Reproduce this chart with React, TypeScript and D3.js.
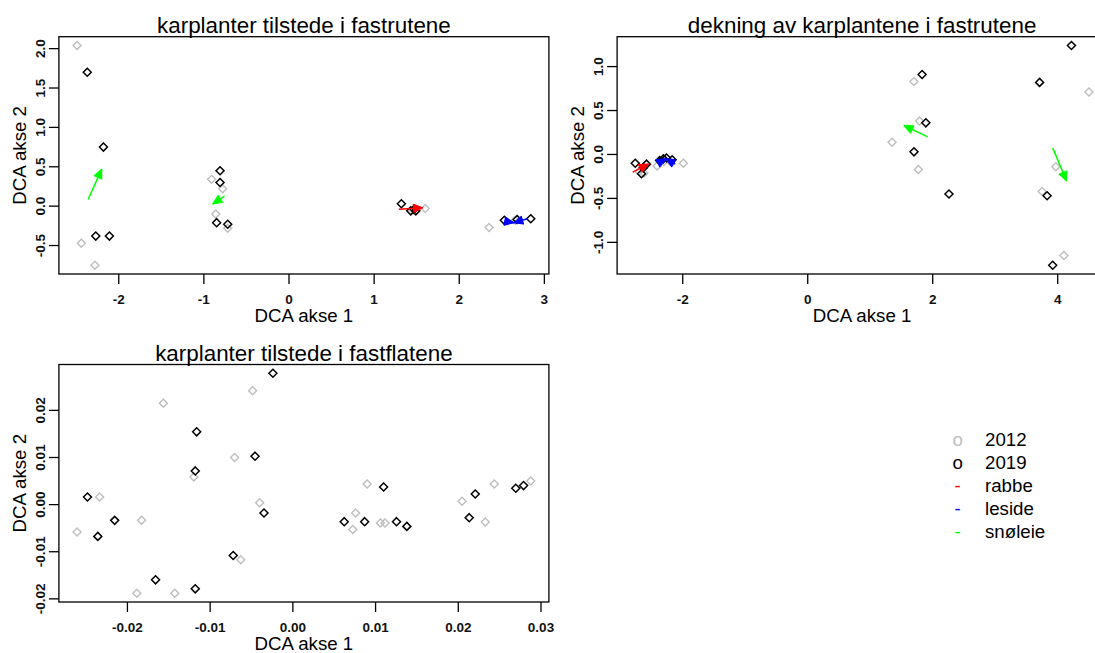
import * as d3 from "d3";

type Pt = [number, number];
type Arrow = [number, number, number, number];

// --- panel 1: karplanter tilstede i fastrutene ---
const rute2012: Pt[] = [
  [-2.49, 2.04], [-2.44, -0.47], [-2.28, -0.75], [-0.91, 0.34], [-0.78, 0.22],
  [-0.86, -0.1], [-0.72, -0.28], [1.6, -0.03], [2.35, -0.27], [1.46, -0.05], [2.66, -0.18],
];
const rute2019: Pt[] = [
  [-2.37, 1.7], [-2.18, 0.75], [-2.27, -0.38], [-2.11, -0.38], [-0.81, 0.45], [-0.81, 0.3],
  [-0.85, -0.21], [-0.72, -0.23], [1.32, 0.03], [1.43, -0.06], [1.47, -0.04], [1.49, -0.06],
  [2.53, -0.18], [2.68, -0.17], [2.84, -0.16],
];
const ruteRabbe: Arrow[] = [[1.29, -0.04, 1.57, -0.02]];
const ruteLeside: Arrow[] = [[2.53, -0.19, 2.64, -0.21], [2.8, -0.16, 2.64, -0.21]];
const ruteSnoleie: Arrow[] = [[-2.36, 0.085, -2.2, 0.47], [-0.757, 0.127, -0.895, 0.03]];

// --- panel 2: dekning av karplantene i fastrutene ---
const dekning2012: Pt[] = [
  [1.7, 0.83], [1.79, 0.38], [1.35, 0.14], [1.77, -0.17], [4.5, 0.71], [3.97, -0.14],
  [3.75, -0.42], [4.1, -1.15], [-1.99, -0.1], [-2.41, -0.13], [-2.7, -0.19], [-2.62, -0.21],
  [-2.3, -0.08], [-2.2, -0.08],
];
const dekning2019: Pt[] = [
  [4.22, 1.24], [3.71, 0.82], [1.83, 0.91], [1.89, 0.36], [1.7, 0.03], [2.26, -0.45],
  [3.83, -0.47], [3.92, -1.26], [-2.76, -0.1], [-2.58, -0.11], [-2.66, -0.22], [-2.63, -0.15],
  [-2.37, -0.07], [-2.26, -0.04], [-2.17, -0.06], [-2.31, -0.05],
];
const dekningRabbe: Arrow[] = [[-2.8, -0.2, -2.55, -0.11]];
const dekningLeside: Arrow[] = [[-2.4, -0.1, -2.27, -0.05], [-2.12, -0.11, -2.27, -0.05]];
const dekningSnoleie: Arrow[] = [[1.92, 0.2, 1.54, 0.33], [3.92, 0.075, 4.14, -0.3]];

// --- panel 3: karplanter tilstede i fastflatene ---
const flate2012: Pt[] = [
  [-0.02609, -0.00582], [-0.02336, 0.00163], [-0.01829, -0.00334], [-0.01565, 0.02149],
  [-0.01886, -0.0188], [-0.01427, -0.0188], [-0.01197, 0.00588], [-0.00704, 0.01],
  [-0.00487, 0.02418], [-0.00401, 0.00042], [-0.0063, -0.0117], [0.00725, -0.00526],
  [0.00759, -0.00178], [0.00898, 0.00439], [0.01058, -0.00391], [0.01114, -0.00391],
  [0.02045, 0.0007], [0.02326, -0.0037], [0.02435, 0.00439], [0.02876, 0.00503],
];
const flate2019: Pt[] = [
  [-0.02483, 0.00163], [-0.02358, -0.00674], [-0.02154, -0.00334], [-0.0166, -0.01596],
  [-0.0118, -0.01787], [-0.01163, 0.01545], [-0.0118, 0.00715], [-0.00721, -0.01079],
  [-0.00457, 0.01028], [-0.00241, 0.02787], [-0.00349, -0.00178], [0.00621, -0.00362],
  [0.00868, -0.00362], [0.01097, 0.00375], [0.01253, -0.00362], [0.01378, -0.00462],
  [0.02132, -0.00277], [0.02205, 0.00226], [0.02695, 0.00347], [0.02789, 0.00404],
];

const titles = [
  "karplanter tilstede i fastrutene",
  "dekning av karplantene i fastrutene",
  "karplanter tilstede i fastflatene",
];
const xTicks1 = [-2, -1, 0, 1, 2, 3];
const yTicks1 = [-0.5, 0, 0.5, 1, 1.5, 2];
const xTicks2 = [-2, 0, 2, 4];
const yTicks2 = [-1, -0.5, 0, 0.5, 1];
const xTicks3 = [-0.02, -0.01, 0, 0.01, 0.02, 0.03];
const yTicks3 = [-0.02, -0.01, 0, 0.01, 0.02];

const legendLabels = ["2012", "2019", "rabbe", "leside", "snøleie"];
const legendSymbols = ["o", "o", "-", "-", "-"];
const legendColors = ["#bebebe", "#000000", "#ff0000", "#0000ff", "#00ff00"];

const FONT = "'Liberation Sans', Arial, sans-serif";

// R-style axis range: data extent padded by 4% each side
function rRange(vals: number[]): [number, number] {
  const [lo, hi] = d3.extent(vals) as [number, number];
  const pad = (hi - lo) * 0.04;
  return [lo - pad, hi + pad];
}

function diamond(cx: number, cy: number, r: number) {
  return `M${cx},${cy - r}L${cx + r},${cy}L${cx},${cy + r}L${cx - r},${cy}Z`;
}

function arrowHead(x0: number, y0: number, x1: number, y1: number) {
  const dx = x1 - x0;
  const dy = y1 - y0;
  const len = Math.hypot(dx, dy) || 1;
  const ux = dx / len;
  const uy = dy / len;
  const L = 9;
  const W = 4;
  const bx = x1 - ux * L;
  const by = y1 - uy * L;
  return `M${x1},${y1}L${bx - uy * W},${by + ux * W}L${bx + uy * W},${by - ux * W}Z`;
}

type Box = { left: number; right: number; top: number; bottom: number };

function Panel(props: {
  box: Box;
  title: string;
  p2012: Pt[];
  p2019: Pt[];
  arrows: { color: string; list: Arrow[] }[];
  xTicks: number[];
  yTicks: number[];
  digits: number;
  xDigits: number;
}) {
  const { box, title, p2012, p2019, arrows, xTicks, yTicks, digits, xDigits } = props;
  const all = [...p2012, ...p2019];
  const x = d3.scaleLinear().domain(rRange(all.map((d) => d[0]))).range([box.left, box.right]);
  const y = d3.scaleLinear().domain(rRange(all.map((d) => d[1]))).range([box.bottom, box.top]);
  const cx = (box.left + box.right) / 2;
  const cy = (box.top + box.bottom) / 2;

  return (
    <g fontFamily={FONT}>
      <text x={cx} y={box.top - 4} textAnchor="middle" fontSize={22.4} fill="#000">
        {title}
      </text>
      <rect x={box.left} y={box.top} width={box.right - box.left} height={box.bottom - box.top}
        fill="none" stroke="#000" strokeWidth={1.3} />
      {xTicks.map((t) => (
        <g key={"x" + t}>
          <line x1={x(t)} x2={x(t)} y1={box.bottom} y2={box.bottom + 10} stroke="#000" strokeWidth={1.3} />
          <text x={x(t)} y={box.bottom + 29.7} textAnchor="middle" fontSize={13.5} fontWeight="bold" fill="#111">
            {t.toFixed(xDigits)}
          </text>
        </g>
      ))}
      {yTicks.map((t) => (
        <g key={"y" + t}>
          <line x1={box.left - 10} x2={box.left} y1={y(t)} y2={y(t)} stroke="#000" strokeWidth={1.3} />
          <text transform={`translate(${box.left - 14.3},${y(t)}) rotate(-90)`} textAnchor="middle"
            fontSize={13.5} fontWeight="bold" fill="#111">
            {t.toFixed(digits)}
          </text>
        </g>
      ))}
      <text x={cx} y={box.bottom + 47.7} textAnchor="middle" fontSize={18.7} fill="#000">
        DCA akse 1
      </text>
      <text transform={`translate(${box.left - 33},${cy}) rotate(-90)`} textAnchor="middle"
        fontSize={18.7} fill="#000">
        DCA akse 2
      </text>
      {p2012.map((d, i) => (
        <path key={"g" + i} d={diamond(x(d[0]), y(d[1]), 4)} fill="none" stroke="#bebebe" strokeWidth={1.4} />
      ))}
      {p2019.map((d, i) => (
        <path key={"b" + i} d={diamond(x(d[0]), y(d[1]), 4)} fill="none" stroke="#000" strokeWidth={1.5} />
      ))}
      {arrows.map((a) =>
        a.list.map((r, i) => {
          const x0 = x(r[0]), y0 = y(r[1]), x1 = x(r[2]), y1 = y(r[3]);
          return (
            <g key={a.color + i}>
              <line x1={x0} y1={y0} x2={x1} y2={y1} stroke={a.color} strokeWidth={1.5} />
              <path d={arrowHead(x0, y0, x1, y1)} fill={a.color} stroke={a.color} strokeWidth={1.2}
                strokeLinejoin="round" />
            </g>
          );
        })
      )}
    </g>
  );
}

export default function App() {
  const box1: Box = { left: 58.9, right: 548.9, top: 36.7, bottom: 274 };
  const box2: Box = { left: 617.1, right: 1107.1, top: 36.7, bottom: 274 };
  const box3: Box = { left: 58.9, right: 548.9, top: 364.5, bottom: 602 };

  return (
    <svg width={1095} height={653} style={{ position: "absolute", left: 0, top: 0, background: "#fff" }}>
      <rect width={1095} height={653} fill="#fff" />
      <Panel box={box1} title={titles[0]} p2012={rute2012} p2019={rute2019}
        arrows={[
          { color: "#ff0000", list: ruteRabbe },
          { color: "#0000ff", list: ruteLeside },
          { color: "#00ff00", list: ruteSnoleie },
        ]}
        xTicks={xTicks1} yTicks={yTicks1} digits={1} xDigits={0} />
      <Panel box={box2} title={titles[1]} p2012={dekning2012} p2019={dekning2019}
        arrows={[
          { color: "#ff0000", list: dekningRabbe },
          { color: "#0000ff", list: dekningLeside },
          { color: "#00ff00", list: dekningSnoleie },
        ]}
        xTicks={xTicks2} yTicks={yTicks2} digits={1} xDigits={0} />
      <Panel box={box3} title={titles[2]} p2012={flate2012} p2019={flate2019}
        arrows={[]}
        xTicks={xTicks3} yTicks={yTicks3} digits={2} xDigits={2} />
      {/* legend */}
      <g fontFamily={FONT} fontSize={18.7}>
        {legendLabels.map((lab, i) => (
          <g key={lab} transform={`translate(0,${439.5 + i * 23})`}>
            <text x={957.7} y={0} textAnchor="middle" dominantBaseline="central" fill={legendColors[i]}>
              {legendSymbols[i]}
            </text>
            <text x={985} y={0} dominantBaseline="central" fill="#000">
              {lab}
            </text>
          </g>
        ))}
      </g>
    </svg>
  );
}
